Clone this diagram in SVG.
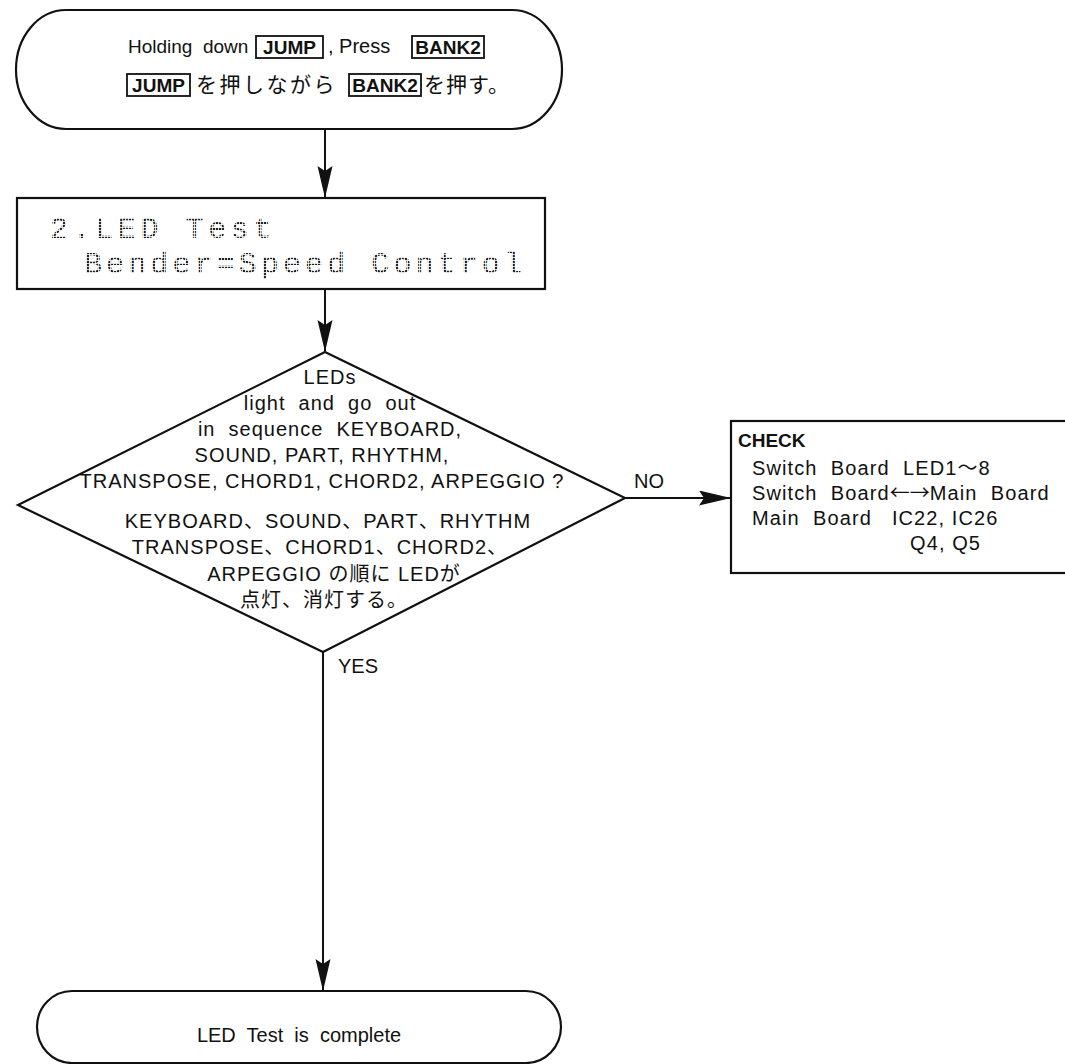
<svg xmlns="http://www.w3.org/2000/svg" width="1065" height="1064" viewBox="0 0 1065 1064">
  <style>
    .line { fill: none; stroke: #111; stroke-width: 2; }
    .shape { fill: #fff; stroke: #111; stroke-width: 2.2; }
    .txt { font-family: "Liberation Sans", "Noto Sans CJK JP", sans-serif; font-size: 19px; fill: #111; }
    .jp { font-family: "Noto Sans CJK JP", "Liberation Sans", sans-serif; }
    .key { font-weight: bold; }
    .keybox { fill: none; stroke: #111; stroke-width: 1.8; }
    .body { font-size: 20px; letter-spacing: 1px; }
    .chk { font-size: 20px; letter-spacing: 1.1px; }
    .lcd { font-family: "Liberation Mono", "DejaVu Sans Mono", monospace; font-size: 30px; fill: url(#dots); letter-spacing: 4.6px; }
  </style>
  <defs>
    <!-- dot-matrix fill for the display text -->
    <pattern id="dots" width="3" height="3" patternUnits="userSpaceOnUse">
      <rect x="0" y="0" width="2.2" height="2.2" fill="#222"/>
    </pattern>
    <marker id="arrow" markerUnits="userSpaceOnUse" markerWidth="34" markerHeight="16" refX="32" refY="7.5" orient="auto">
      <path d="M0,0 L32,7.5 L0,15 L5,7.5 z" fill="#111"/>
    </marker>
  </defs>
  <rect width="1065" height="1064" fill="#fff"/>

  <!-- connectors -->
  <g id="connectors">
    <line class="line" x1="325" y1="129" x2="325" y2="198" marker-end="url(#arrow)"/>
    <line class="line" x1="325" y1="289" x2="325" y2="352" marker-end="url(#arrow)"/>
    <line class="line" x1="625" y1="498" x2="731" y2="498" marker-end="url(#arrow)"/>
    <line class="line" x1="323" y1="652" x2="323" y2="991" marker-end="url(#arrow)"/>
  </g>

  <!-- start terminator -->
  <g id="start">
    <path class="shape" d="M66,10 L512,10 A50,59.5 0 0 1 512,129 L66,129 A50,59.5 0 0 1 66,10 z"/>
    <text class="txt" x="128" y="53" xml:space="preserve">Holding  down</text>
    <rect class="keybox" x="256" y="36" width="67" height="22"/>
    <text class="txt key" x="289.5" y="54" text-anchor="middle">JUMP</text>
    <text class="txt" x="328" y="53" style="font-size:20px">, Press</text>
    <rect class="keybox" x="412" y="36" width="72" height="22"/>
    <text class="txt key" x="448" y="54" text-anchor="middle">BANK2</text>
    <rect class="keybox" x="127" y="74" width="63" height="22"/>
    <text class="txt key" x="158.5" y="92" text-anchor="middle">JUMP</text>
    <text class="txt jp" x="196" y="92" style="font-size:21px;letter-spacing:2.5px">を押しながら</text>
    <rect class="keybox" x="349" y="74" width="72" height="22"/>
    <text class="txt key" x="385" y="92" text-anchor="middle">BANK2</text>
    <text class="txt jp" x="424" y="92" style="font-size:21px;letter-spacing:1px">を押す。</text>
  </g>

  <!-- display readout -->
  <g id="display">
    <rect class="shape" x="17" y="198" width="528" height="91"/>
    <text class="lcd" x="50" y="238">2.LED Test</text>
    <text class="lcd" x="84" y="273" style="letter-spacing:4.1px">Bender=Speed Control</text>
  </g>

  <!-- decision -->
  <g id="decision">
    <polygon class="shape" points="325,352 625,498 323,652 18,505"/>
    <g class="txt body" text-anchor="middle">
      <text x="330" y="384">LEDs</text>
      <text x="330" y="410" xml:space="preserve">light  and  go  out</text>
      <text x="330" y="436" xml:space="preserve">in  sequence  KEYBOARD,</text>
      <text x="322" y="462">SOUND, PART, RHYTHM,</text>
      <text x="322" y="488">TRANSPOSE, CHORD1, CHORD2, ARPEGGIO ?</text>
      <text x="328" y="528">KEYBOARD、SOUND、PART、RHYTHM</text>
      <text x="320" y="554">TRANSPOSE、CHORD1、CHORD2、</text>
      <text x="334" y="581">ARPEGGIO の順に LEDが</text>
      <text x="324" y="607">点灯、消灯する。</text>
    </g>
  </g>

  <!-- branch labels -->
  <g id="labels">
    <text class="txt" x="634" y="488" style="font-size:20px">NO</text>
    <text class="txt" x="338" y="673" style="font-size:20px">YES</text>
  </g>

  <!-- check list -->
  <g id="check">
    <rect class="shape" x="731" y="421" width="340" height="152"/>
    <text class="txt" x="738" y="447" style="font-weight:bold">CHECK</text>
    <text class="txt chk" x="752" y="475" xml:space="preserve">Switch  Board  LED1～8</text>
    <text class="txt chk" x="752" y="500" xml:space="preserve">Switch  Board<tspan class="jp" style="letter-spacing:0">←→</tspan>Main  Board</text>
    <text class="txt chk" x="752" y="525" xml:space="preserve">Main  Board   IC22, IC26</text>
    <text class="txt chk" x="910" y="550">Q4, Q5</text>
  </g>

  <!-- end terminator -->
  <g id="end">
    <path class="shape" d="M72,991 L526,991 A35,36 0 0 1 526,1063 L72,1063 A35,36 0 0 1 72,991 z"/>
    <text class="txt" x="299" y="1042" text-anchor="middle" style="font-size:20px" xml:space="preserve">LED  Test  is  complete</text>
  </g>
</svg>
